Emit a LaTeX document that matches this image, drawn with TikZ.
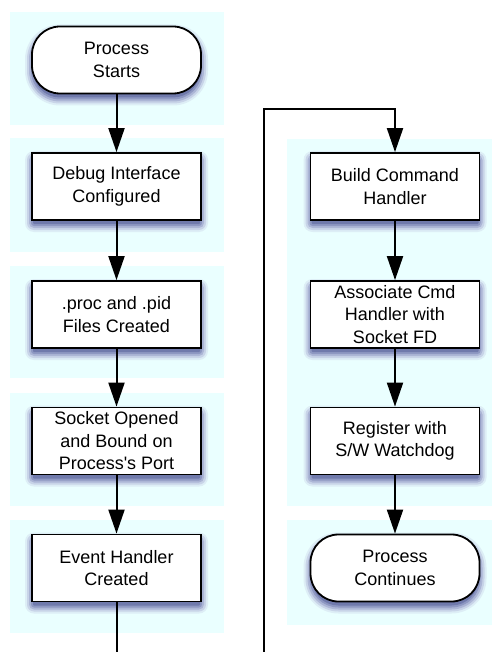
\documentclass[tikz,border=0pt]{standalone}
\usepackage{fontspec}
\newfontfamily\lsans{Liberation Sans}
\usetikzlibrary{arrows.meta}
\definecolor{panelc}{RGB}{234,255,255}
\definecolor{shA}{RGB}{221,238,246}
\definecolor{shB}{RGB}{200,212,232}
\definecolor{shC}{RGB}{172,182,214}
\definecolor{shD}{RGB}{142,152,194}
\definecolor{shE}{RGB}{112,122,172}
\newcommand\shadowbox[5]{%
  \fill[shA, rounded corners={(#5+9)*1pt}] (#1-7,#2-2) rectangle (#3+7,#4+12);
  \fill[shB, rounded corners={(#5+7)*1pt}] (#1-5,#2) rectangle (#3+5,#4+10);
  \fill[shC, rounded corners={(#5+5)*1pt}] (#1-3,#2+2) rectangle (#3+3,#4+8);
  \fill[shD, rounded corners={(#5+3)*1pt}] (#1-1,#2+4) rectangle (#3+1,#4+6);
  \fill[shE, rounded corners={(#5+1)*1pt}] (#1+1,#2+6) rectangle (#3-1,#4+4);}
\tikzset{
  stepbox/.style={draw=black, fill=white, line width=1.8pt, minimum width=169pt,
    minimum height=67pt, inner sep=0pt, align=center,
    font=\lsans\fontsize{18}{22.5}\selectfont},
  termbox/.style={stepbox, rounded corners=28pt},
  arr/.style={line width=2pt, -{Triangle[length=24pt,width=16pt]}},
  plain/.style={line width=2pt},
  panel/.style={fill=panelc, draw=none}
}
\begin{document}
\begin{tikzpicture}[x=1pt,y=-1pt]
\useasboundingbox (0,0) rectangle (492,652);
\fill[white] (0,0) rectangle (492,652);
\fill[panel] (10,12) rectangle (224,125);
\fill[panel] (10,138) rectangle (224,252);
\fill[panel] (10,266) rectangle (224,378);
\fill[panel] (10,393) rectangle (224,506);
\fill[panel] (10,520) rectangle (224,633);
\fill[panel] (287,139) rectangle (492,506);
\fill[panel] (287,520) rectangle (492,625);

\shadowbox{32}{26.5}{201}{93.5}{26}
\shadowbox{32}{153}{201}{220}{0}
\shadowbox{32}{281}{201}{348}{0}
\shadowbox{32}{407.5}{201}{474.5}{0}
\shadowbox{32}{534.5}{201}{601.5}{0}
\shadowbox{310.5}{153}{479.5}{220}{0}
\shadowbox{310.5}{281}{479.5}{348}{0}
\shadowbox{310.5}{407.5}{479.5}{474.5}{0}
\shadowbox{310.5}{534.5}{479.5}{601.5}{26}

\node[termbox] (start) at (116.5,60) {Process\\Starts};
\node[stepbox] (debug) at (116.5,186.5) {Debug Interface\\Configured};
\node[stepbox] (proc) at (116.5,314.5) {.proc and .pid\\Files Created};
\node[stepbox] (sock) at (116.5,441) {Socket Opened\\and Bound on\\Process's Port};
\node[stepbox] (event) at (116.5,568) {Event Handler\\Created};

\node[stepbox] (build) at (395,186.5) {Build Command\\Handler};
\node[stepbox] (assoc) at (395,314.5) {Associate Cmd\\Handler with\\Socket FD};
\node[stepbox] (reg) at (395,441) {Register with\\S/W Watchdog};
\node[termbox] (cont) at (395,568) {Process\\Continues};

\draw[arr] (start) -- (debug);
\draw[arr] (debug) -- (proc);
\draw[arr] (proc) -- (sock);
\draw[arr] (sock) -- (event);
\coordinate (leftend) at (116.5,655);
\draw[plain] (event) -- (leftend);

\coordinate (loopstart) at (264,655);
\coordinate (looptop) at (395,109);
\draw[arr, line join=miter] (loopstart) |- (looptop) -- (build);
\draw[arr] (build) -- (assoc);
\draw[arr] (assoc) -- (reg);
\draw[arr] (reg) -- (cont);
\end{tikzpicture}
\end{document}
